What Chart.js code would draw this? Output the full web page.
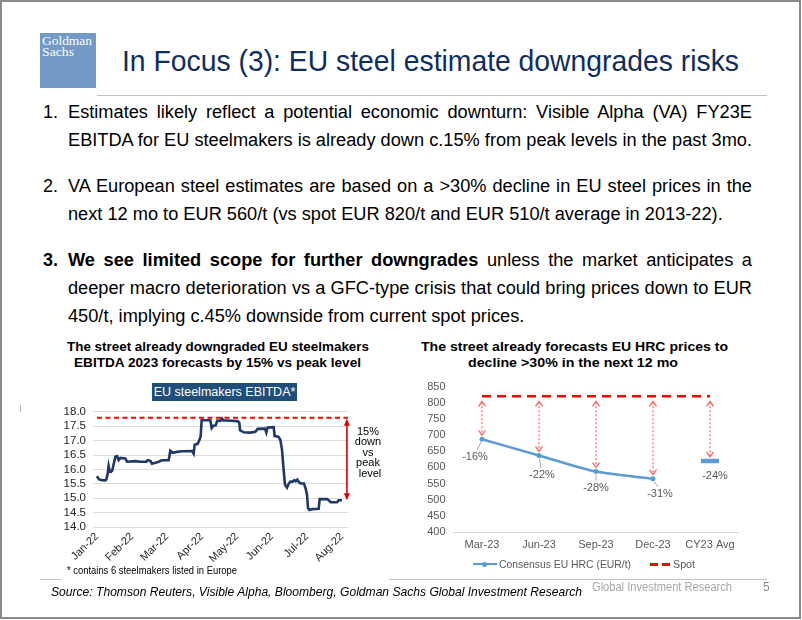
<!DOCTYPE html>
<html>
<head>
<meta charset="utf-8">
<script src="https://cdn.jsdelivr.net/npm/chart.js@4.4.0/dist/chart.umd.min.js"></script>
<style>
  html, body { margin: 0; padding: 0; background: #fff; }
  body { width: 802px; height: 620px; overflow: hidden; font-family: "Liberation Sans", Arial, Helvetica, sans-serif; }
  #slide { position: relative; width: 802px; height: 620px; }
  #frame { position: absolute; left: 0; top: 0; width: 801px; height: 619px; box-sizing: border-box; border: 2px solid #8a8a8a; pointer-events: none; }
  .abs { position: absolute; white-space: nowrap; transform-origin: 0 50%; }
  #logo { position: absolute; left: 40px; top: 33px; width: 56px; height: 55px; background: #7399c6; }
  #logo .abs { font-family: "Liberation Serif", "DejaVu Serif", serif; color: #fff; font-size: 12.5px; line-height: 12px; left: 2px; }
  .bl { font-size: 18px; line-height: 22px; color: #000; left: 68px; }
  .num { font-size: 18px; line-height: 22px; color: #000; left: 43px; }
  .ctitle { font-weight: bold; font-size: 13px; line-height: 16px; color: #000; }
  .note { font-size: 11px; line-height: 11px; color: #000; text-align: center; width: 40px; left: 348px; }
  .dlabel { position: absolute; font-size: 11px; line-height: 12px; color: #595959; white-space: nowrap; transform: translate(-50%, -50%); }
  .rule { position: absolute; height: 1px; background: #c3c3c3; }
  canvas { position: absolute; }
</style>
</head>
<body>
<div id="slide">
  <div id="logo">
    <span class="abs" data-w="50" style="top:2px">Goldman</span>
    <span class="abs" data-w="32" style="top:13px">Sachs</span>
  </div>
  <div class="abs" data-w="617" style="left:122px; top:46px; font-size:30px; line-height:30px; color:#0f2e5e;">In Focus (3): EU steel estimate downgrades risks</div>
  <div class="rule" style="left:97px; top:95px; width:670px;"></div>

  <div class="abs num" style="top:101px">1.</div>
  <div class="abs bl just" style="top:101px">Estimates likely reflect a potential economic downturn: Visible Alpha (VA) FY23E</div>
  <div class="abs bl" id="refLine" style="top:129px">EBITDA for EU steelmakers is already down c.15% from peak levels in the past 3mo.</div>

  <div class="abs num" style="top:175px">2.</div>
  <div class="abs bl just" style="top:175px">VA European steel estimates are based on a &gt;30% decline in EU steel prices in the</div>
  <div class="abs bl" style="top:203px">next 12 mo to EUR 560/t (vs spot EUR 820/t and EUR 510/t average in 2013-22).</div>

  <div class="abs num" style="top:249px; font-weight:bold">3.</div>
  <div class="abs bl just" style="top:249px"><b>We see limited scope for further downgrades</b> unless the market anticipates a</div>
  <div class="abs bl just" style="top:277px">deeper macro deterioration vs a GFC-type crisis that could bring prices down to EUR</div>
  <div class="abs bl" style="top:305px">450/t, implying c.45% downside from current spot prices.</div>

  <div class="abs ctitle" data-w="302" style="left:67px; top:339px">The street already downgraded EU steelmakers</div>
  <div class="abs ctitle" data-w="287" style="left:74px; top:355px">EBITDA 2023 forecasts by 15% vs peak level</div>
  <div style="position:absolute; left:152px; top:383px; width:145px; height:18px; background:#1f4e79; color:#fff; font-size:12.5px; line-height:18px; text-align:center;">EU steelmakers EBITDA*</div>

  <div class="abs ctitle" data-w="307" style="left:421px; top:339px">The street already forecasts EU HRC prices to</div>
  <div class="abs ctitle" data-w="210" style="left:468px; top:355px">decline &gt;30% in the next 12 mo</div>

  <canvas id="ebitdaChart" width="335" height="170" style="left:55px; top:398px"></canvas>
  <canvas id="hrcChart" width="390" height="180" style="left:400px; top:372px"></canvas>

  <div class="abs note" style="top:426px">15%</div>
  <div class="abs note" style="top:436px">down</div>
  <div class="abs note" style="top:447px">vs</div>
  <div class="abs note" style="top:457px">peak</div>
  <div class="abs note" style="top:468px; left:350px">level</div>

  <div class="abs" data-w="170" style="left:67px; top:564px; font-size:11px; line-height:12px;">* contains 6 steelmakers listed in Europe</div>

  <!-- legend of the HRC chart -->
  <div style="position:absolute; left:473px; top:563px; width:24px; height:2px; background:#5b9bd5;"></div>
  <div style="position:absolute; left:482px; top:561.5px; width:5px; height:5px; border-radius:50%; background:#5b9bd5;"></div>
  <div class="abs" data-w="132" style="left:499px; top:558px; font-size:11.5px; line-height:12px; color:#595959;">Consensus EU HRC (EUR/t)</div>
  <div style="position:absolute; left:650px; top:562.5px; width:8px; height:3px; background:#ff0000;"></div>
  <div style="position:absolute; left:662px; top:562.5px; width:8px; height:3px; background:#ff0000;"></div>
  <div class="abs" data-w="22" style="left:673px; top:558px; font-size:11.5px; line-height:12px; color:#595959;">Spot</div>

  <div class="rule" style="left:40px; top:579px; width:21px;"></div>
  <div class="rule" style="left:389px; top:579px; width:378px;"></div>
  <div class="abs" data-w="531" style="left:51px; top:584px; font-size:13px; line-height:15px; font-style:italic; color:#000;">Source: Thomson Reuters, Visible Alpha, Bloomberg, Goldman Sachs Global Investment Research</div>
  <div class="abs" data-w="140" style="left:592px; top:580.5px; font-size:12px; line-height:13px; color:#a6a6a6;">Global Investment Research</div>
  <div class="abs" style="left:763px; top:580.5px; font-size:12px; line-height:13px; color:#8c8c8c;">5</div>
  <div style="position:absolute; left:20px; top:405px; width:1px; height:7px; background:#bbb;"></div>

  <div id="frame"></div>
</div>

<script>
// ---------- left chart: EU steelmakers EBITDA (FY23 consensus) ----------
const monthLabels = ['Jan-22', 'Feb-22', 'Mar-22', 'Apr-22', 'May-22', 'Jun-22', 'Jul-22', 'Aug-22'];
// months elapsed since 1 Jan 2022
const ebitdaX = [
  0.000, 0.029, 0.067, 0.143, 0.238, 0.267, 0.305, 0.333, 0.362, 0.400,
  0.438, 0.476, 0.524, 0.571, 0.619, 0.667, 0.810, 0.857, 1.095, 1.238,
  1.410, 1.448, 1.524, 1.571, 1.667, 1.762, 1.857, 2.048, 2.095, 2.162,
  2.286, 2.429, 2.714, 2.762, 2.790, 2.876, 2.933, 2.962, 2.990, 3.238,
  3.276, 3.324, 3.390, 3.438, 3.524, 3.571, 3.610, 3.714, 4.019, 4.067,
  4.086, 4.190, 4.381, 4.524, 4.590, 4.800, 4.838, 4.876, 5.048, 5.076,
  5.181, 5.238, 5.286, 5.324, 5.371, 5.429, 5.476, 5.524, 5.581, 5.638,
  5.676, 5.724, 5.762, 5.819, 5.914, 5.962, 6.000, 6.029, 6.067, 6.143,
  6.333, 6.362, 6.571, 6.629, 6.676, 6.857, 6.905, 7.000
];
const ebitdaY = [
  15.77, 15.70, 15.65, 15.63, 15.62, 15.65, 15.85, 16.12, 15.95, 15.92,
  15.97, 16.18, 16.44, 16.46, 16.33, 16.40, 16.38, 16.27, 16.29, 16.27,
  16.27, 16.32, 16.30, 16.20, 16.23, 16.27, 16.32, 16.32, 16.65, 16.58,
  16.61, 16.63, 16.64, 16.55, 16.86, 16.89, 17.05, 17.15, 17.71, 17.71,
  17.44, 17.52, 17.53, 17.70, 17.69, 17.77, 17.70, 17.70, 17.68, 17.62,
  17.36, 17.29, 17.28, 17.31, 17.41, 17.42, 17.28, 17.46, 17.47, 17.16,
  17.14, 17.03, 16.68, 16.10, 15.47, 15.37, 15.50, 15.58, 15.57, 15.63,
  15.59, 15.65, 15.57, 15.51, 15.51, 15.33, 15.12, 14.66, 14.59, 14.62,
  14.63, 14.97, 14.97, 14.92, 14.86, 14.86, 14.93, 14.93
];
const peakLevel = 17.8;
const latestLevel = 14.93;
const ebitdaTicks = [14.0, 14.5, 15.0, 15.5, 16.0, 16.5, 17.0, 17.5, 18.0];

// ---------- right chart: EU HRC consensus vs spot ----------
const quarters = ['Mar-23', 'Jun-23', 'Sep-23', 'Dec-23', 'CY23 Avg'];
const consensus = [687, 637, 587, 565, null];
const cyAverage = [null, null, null, null, 620];
const spot = [820, 820, 820, 820, 820];
const changeLabels = ['-16%', '-22%', '-28%', '-31%', '-24%'];
const hrcTicks = [400, 450, 500, 550, 600, 650, 700, 750, 800, 850];

// label offsets from the point (px), style only
const LABEL_OFFSETS = [[-7, 17], [3, 19], [0, 15], [7, 14], [5, 14]];

Chart.defaults.font.family = "'Liberation Sans', Arial, sans-serif";

function fitText() {
    document.querySelectorAll('[data-w]').forEach(el => {
        const target = parseFloat(el.dataset.w);
        const natural = el.getBoundingClientRect().width;
        el.style.transform = `scaleX(${target / natural})`;
    });

    // bullet lines: one common squeeze, justified lines stretched by word spacing
    const lineWidth = 684;
    const ref = document.getElementById('refLine');
    const s = lineWidth / ref.getBoundingClientRect().width;
    document.querySelectorAll('.bl').forEach(el => {
        const w = el.getBoundingClientRect().width;
        if (el.classList.contains('just')) {
            const spaces = (el.textContent.match(/ /g) || []).length;
            el.style.wordSpacing = ((lineWidth / s - w) / spaces) + 'px';
        }
        el.style.transform = `scaleX(${s})`;
    });
}

const peakArrow = {
    id: 'peakArrow',
    afterDatasetsDraw(chart) {
        const { ctx, scales: { x, y } } = chart;
        const px = x.getPixelForValue(7.14);
        const top = y.getPixelForValue(peakLevel) + 1;
        const bot = y.getPixelForValue(latestLevel);
        ctx.save();
        ctx.strokeStyle = '#e00000';
        ctx.fillStyle = '#e00000';
        ctx.lineWidth = 1.6;
        ctx.beginPath();
        ctx.moveTo(px, top + 5);
        ctx.lineTo(px, bot - 5);
        ctx.stroke();
        ctx.beginPath();
        ctx.moveTo(px, top); ctx.lineTo(px - 3, top + 7); ctx.lineTo(px + 3, top + 7); ctx.closePath();
        ctx.moveTo(px, bot); ctx.lineTo(px - 3, bot - 7); ctx.lineTo(px + 3, bot - 7); ctx.closePath();
        ctx.fill();
        ctx.restore();
    }
};

function renderEbitdaChart() {
    const ctx = document.getElementById('ebitdaChart').getContext('2d');
    new Chart(ctx, {
        type: 'line',
        data: {
            datasets: [{
                data: ebitdaX.map((m, i) => ({ x: m, y: ebitdaY[i] })),
                borderColor: '#203864',
                borderWidth: 2.6,
                pointRadius: 0,
                tension: 0
            }, {
                data: [{ x: 0, y: peakLevel }, { x: 7.17, y: peakLevel }],
                borderColor: '#ff0000',
                borderWidth: 2,
                borderDash: [5, 3.5],
                pointRadius: 0
            }]
        },
        options: {
            responsive: false,
            animation: false,
            layout: { padding: { top: 9, right: 42, left: 0, bottom: 0 } },
            plugins: { legend: { display: false }, tooltip: { enabled: false } },
            scales: {
                x: {
                    type: 'linear',
                    min: -0.114,
                    max: 7.171,
                    afterBuildTicks: (scale) => { scale.ticks = monthLabels.map((_, i) => ({ value: i })); },
                    afterFit: (scale) => { scale.height = 41; },
                    ticks: {
                        callback: (v) => monthLabels[v],
                        autoSkip: false,
                        maxRotation: 45,
                        minRotation: 45,
                        padding: 3,
                        color: '#262626',
                        font: { size: 11 }
                    },
                    grid: { display: false, drawTicks: false },
                    border: { display: false }
                },
                y: {
                    min: 14,
                    max: 18,
                    afterBuildTicks: (scale) => { scale.ticks = ebitdaTicks.map(v => ({ value: v })); },
                    afterFit: (scale) => { scale.width = 38; },
                    ticks: {
                        callback: (v) => v.toFixed(1),
                        autoSkip: false,
                        padding: 7,
                        color: '#262626',
                        font: { size: 11.5 }
                    },
                    grid: { color: '#dcdcdc', drawTicks: false },
                    border: { display: false }
                }
            }
        },
        plugins: [peakArrow]
    });
}

const spotArrows = {
    id: 'spotArrows',
    afterDatasetsDraw(chart) {
        const { ctx, scales: { x, y } } = chart;
        ctx.save();
        quarters.forEach((q, i) => {
            const val = consensus[i] !== null ? consensus[i] : cyAverage[i];
            const px = x.getPixelForValue(i);
            const top = y.getPixelForValue(spot[i]) + 5;
            const bot = y.getPixelForValue(val) - 4;
            ctx.strokeStyle = '#ff5c5c';
            ctx.lineWidth = 1.2;
            ctx.setLineDash([2, 2]);
            ctx.beginPath();
            ctx.moveTo(px, top + 1);
            ctx.lineTo(px, bot - 1);
            ctx.stroke();
            ctx.setLineDash([]);
            ctx.beginPath();
            ctx.moveTo(px - 3.5, top + 5); ctx.lineTo(px, top); ctx.lineTo(px + 3.5, top + 5);
            ctx.moveTo(px - 3.5, bot - 5); ctx.lineTo(px, bot); ctx.lineTo(px + 3.5, bot - 5);
            ctx.stroke();
        });
        ctx.restore();
    }
};

const changeLabelPlugin = {
    id: 'changeLabels',
    afterDraw(chart) {
        const { ctx, scales: { x, y } } = chart;
        const slide = document.getElementById('slide');
        const ox = chart.canvas.offsetLeft;
        const oy = chart.canvas.offsetTop;
        ctx.save();
        ctx.strokeStyle = '#a6a6a6';
        ctx.lineWidth = 1;
        changeLabels.forEach((txt, i) => {
            const val = consensus[i] !== null ? consensus[i] : cyAverage[i];
            const px = x.getPixelForValue(i);
            const py = y.getPixelForValue(val);
            const [dx, dy] = LABEL_OFFSETS[i];
            if (consensus[i] !== null) {
                ctx.beginPath();
                ctx.moveTo(px + dx * 0.15, py + 3);
                ctx.lineTo(px + dx * 0.7, py + dy - 6);
                ctx.stroke();
            }
            let el = document.getElementById('dl' + i);
            if (!el) {
                el = document.createElement('div');
                el.id = 'dl' + i;
                el.className = 'dlabel';
                el.textContent = txt;
                slide.appendChild(el);
            }
            el.style.left = (ox + px + dx) + 'px';
            el.style.top = (oy + py + dy) + 'px';
        });
        ctx.restore();
    }
};

function renderHrcChart() {
    const ctx = document.getElementById('hrcChart').getContext('2d');
    new Chart(ctx, {
        type: 'line',
        data: {
            labels: quarters,
            datasets: [{
                label: 'Consensus EU HRC (EUR/t)',
                data: consensus,
                borderColor: '#5b9bd5',
                backgroundColor: '#5b9bd5',
                borderWidth: 2.5,
                pointRadius: 2.5,
                pointBorderWidth: 0,
                tension: 0.25,
                spanGaps: false
            }, {
                label: 'CY23 Avg',
                data: cyAverage,
                showLine: false,
                pointStyle: 'line',
                pointRadius: 9,
                pointBorderWidth: 4.5,
                borderColor: '#5b9bd5',
                backgroundColor: '#5b9bd5'
            }, {
                label: 'Spot',
                data: spot,
                borderColor: '#ff0000',
                borderWidth: 2.5,
                borderDash: [9, 6],
                pointRadius: 0
            }]
        },
        options: {
            responsive: false,
            animation: false,
            layout: { padding: { top: 9, right: 51.5, left: 0, bottom: 0 } },
            plugins: { legend: { display: false }, tooltip: { enabled: false } },
            scales: {
                x: {
                    offset: true,
                    afterFit: (scale) => { scale.height = 20; },
                    ticks: { padding: 6, color: '#595959', font: { size: 11 } },
                    grid: { display: false, drawTicks: false },
                    border: { display: true, color: '#d9d9d9', width: 1 }
                },
                y: {
                    min: 400,
                    max: 850,
                    afterBuildTicks: (scale) => { scale.ticks = hrcTicks.map(v => ({ value: v })); },
                    afterFit: (scale) => { scale.width = 53.5; },
                    ticks: { autoSkip: false, padding: 8, color: '#595959', font: { size: 11 } },
                    grid: { display: false, drawTicks: false },
                    border: { display: false }
                }
            }
        },
        plugins: [spotArrows, changeLabelPlugin]
    });
}

fitText();
renderEbitdaChart();
renderHrcChart();
</script>
</body>
</html>
